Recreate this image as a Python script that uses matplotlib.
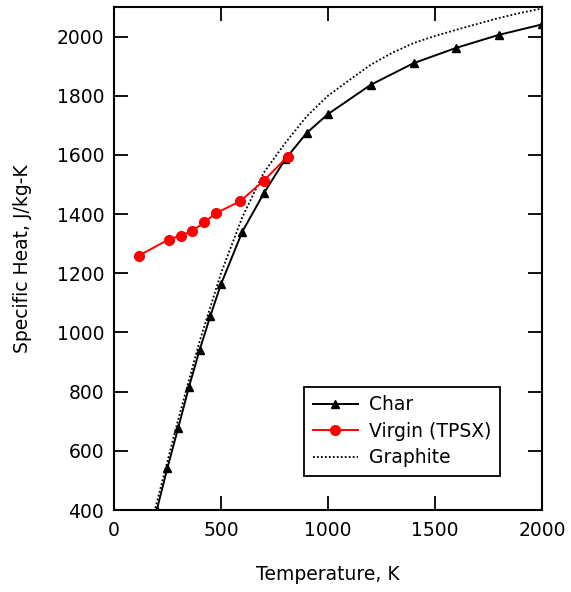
import numpy as np
import matplotlib
matplotlib.use("Agg")
import matplotlib.pyplot as plt

plt.rcParams.update({
    "font.family": "DejaVu Sans",
    "font.size": 13.5,
    "xtick.direction": "in",
    "ytick.direction": "in",
    "xtick.top": True,
    "ytick.right": True,
    "xtick.major.size": 10,
    "ytick.major.size": 10,
    "xtick.major.width": 1.3,
    "ytick.major.width": 1.3,
    "axes.linewidth": 1.5,
})

# ------------------------------------------------------------
# Data
# ------------------------------------------------------------
char_T = [200, 250, 300, 350, 400, 450, 500, 600, 700, 800, 900, 1000,
          1200, 1400, 1600, 1800, 2000]
char_cp = [400, 543, 677, 815, 940, 1055, 1163, 1341, 1470, 1585, 1674, 1738,
           1837, 1910, 1962, 2006, 2041]

virgin_T = [117, 255, 311, 366, 422, 478, 589, 700, 811]
virgin_cp = [1260, 1314, 1327, 1343, 1372, 1404, 1443, 1513, 1594]

graphite_T = [150, 200, 300, 400, 500, 600, 700, 800, 900, 1000, 1100, 1200,
              1300, 1400, 1500, 1600, 1700, 1800, 1900, 2000]
graphite_cp = [290, 425, 705, 970, 1200, 1390, 1540, 1640, 1730, 1800, 1853, 1905,
               1945, 1978, 2002, 2023, 2043, 2063, 2080, 2095]

x_ticks = [0, 500, 1000, 1500, 2000]
y_ticks = [400, 600, 800, 1000, 1200, 1400, 1600, 1800, 2000]

# ------------------------------------------------------------
# Plot
# ------------------------------------------------------------
fig = plt.figure(figsize=(5.71, 5.92), dpi=100)
ax = fig.add_axes([0.1996, 0.1385, 0.7495, 0.8497])

ax.plot(char_T, char_cp, color="black", linewidth=1.4,
        marker="^", markersize=5.5, label="Char", zorder=3)
ax.plot(virgin_T, virgin_cp, color="red", linewidth=1.4,
        marker="o", markersize=7, label="Virgin (TPSX)", zorder=4)
ax.plot(graphite_T, graphite_cp, color="black", linewidth=1.3,
        linestyle=(0, (1, 1.2)), label="Graphite", zorder=2)

ax.set_xlim(0, 2000)
ax.set_ylim(400, 2100)
ax.set_xticks(x_ticks)
ax.set_yticks(y_ticks)
ax.tick_params(axis="x", pad=8)
ax.tick_params(axis="y", pad=7)

ax.set_xlabel("Temperature, K", labelpad=18)
ax.set_ylabel("Specific Heat, J/kg-K", labelpad=18)

leg = ax.legend(loc="lower right", bbox_to_anchor=(0.902, 0.068),
                borderaxespad=0, fancybox=False, framealpha=1.0,
                edgecolor="black", handlelength=2.4, handletextpad=0.6,
                labelspacing=0.4, borderpad=0.45)
leg.get_frame().set_linewidth(1.3)

fig.savefig("out.png", dpi=100)
